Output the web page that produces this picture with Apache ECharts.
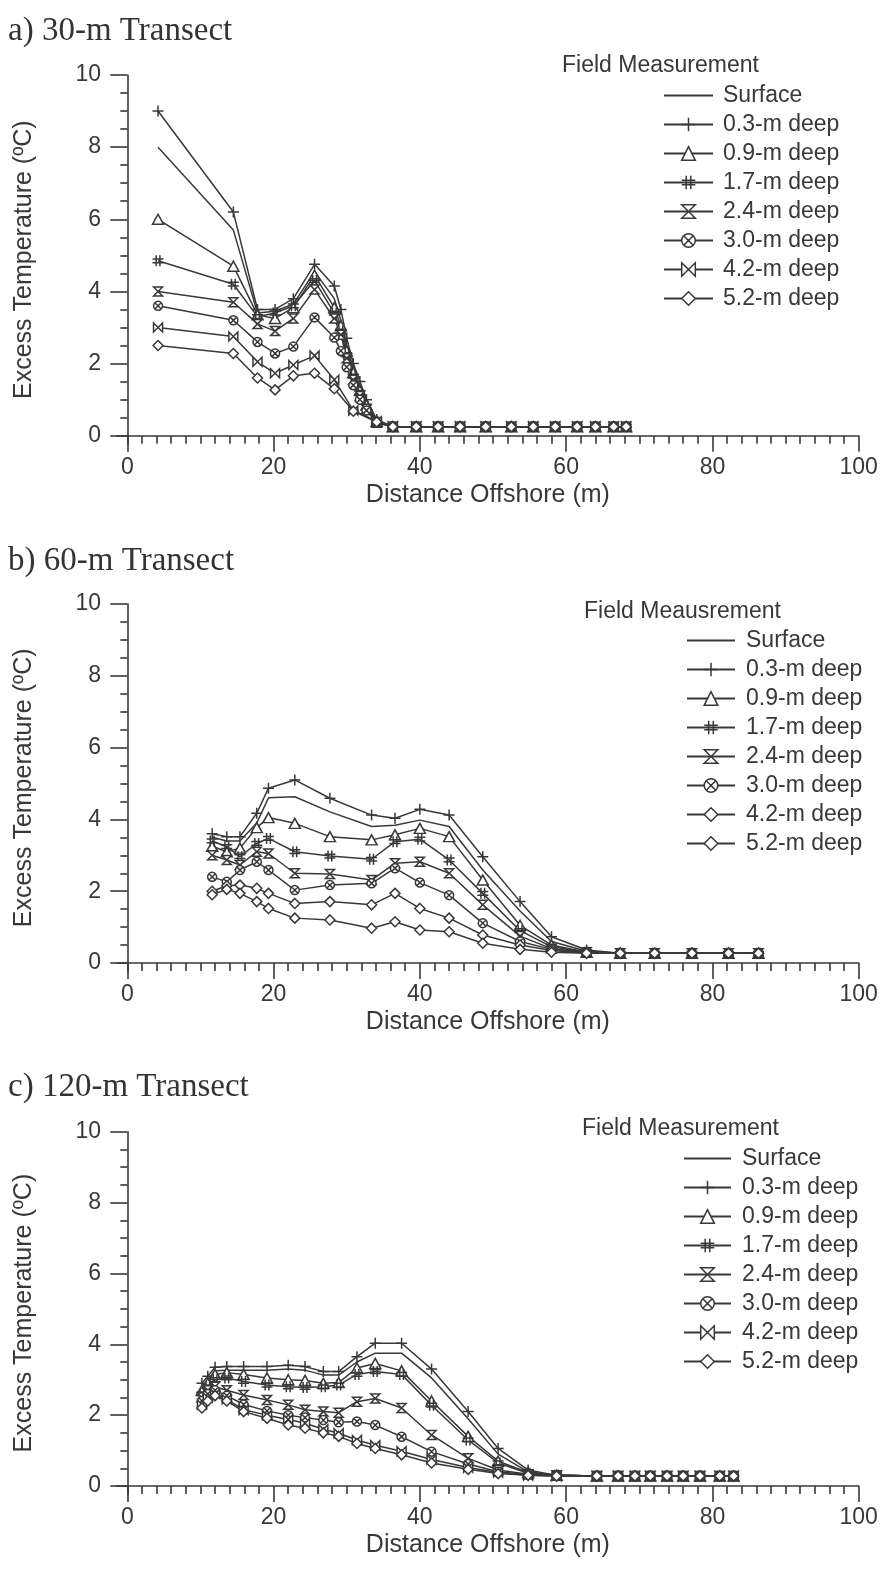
<!DOCTYPE html>
<html>
<head>
<meta charset="utf-8">
<script src="https://cdn.jsdelivr.net/npm/echarts@6/dist/echarts.min.js"></script>
<style>
  html, body { margin: 0; padding: 0; background: #fff; }
  #chart { width: 882px; height: 1584px; }
</style>
</head>
<body>
<div id="chart"></div>
<script>
// series names and tick labels
const depthNames = ['Surface', '0.3-m deep', '0.9-m deep', '1.7-m deep', '2.4-m deep', '3.0-m deep', '4.2-m deep', '5.2-m deep'];
const panelTitles = ['a) 30-m Transect', 'b) 60-m Transect', 'c) 120-m Transect'];
const legendHeads = ['Field Measurement', 'Field Meausrement', 'Field Measurement'];
const xTicks = [0, 20, 40, 60, 80, 100];
const yTicks = [0, 2, 4, 6, 8, 10];

// a) 30-m transect
const xA = [4.2, 14.5, 17.8, 20.2, 22.7, 25.6, 28.3, 29.2, 30.0, 30.9, 31.8, 32.7, 34.1,
  36.3, 39.5, 42.5, 45.5, 49.0, 52.5, 55.5, 58.5, 61.5, 64.0, 66.5, 68.2];
const aSurf = [8.0, 5.7, 3.4, 3.45, 3.65, 4.55, 3.8, 3.2, 2.5, 1.85, 1.35, 0.9, 0.4,
  0.25, 0.25, 0.25, 0.25, 0.25, 0.25, 0.25, 0.25, 0.25, 0.25, 0.25, 0.25];
const a03 = [9.0, 6.2, 3.5, 3.5, 3.8, 4.75, 4.15, 3.5, 2.7, 2.0, 1.5, 1.0, 0.45,
  0.25, 0.25, 0.25, 0.25, 0.25, 0.25, 0.25, 0.25, 0.25, 0.25, 0.25, 0.25];
const a09 = [6.0, 4.7, 3.35, 3.25, 3.55, 4.45, 3.55, 3.05, 2.35, 1.75, 1.25, 0.85, 0.4,
  0.25, 0.25, 0.25, 0.25, 0.25, 0.25, 0.25, 0.25, 0.25, 0.25, 0.25, 0.25];
const a17 = [4.85, 4.2, 3.3, 3.4, 3.6, 4.3, 3.4, 2.9, 2.25, 1.65, 1.2, 0.8, 0.38,
  0.25, 0.25, 0.25, 0.25, 0.25, 0.25, 0.25, 0.25, 0.25, 0.25, 0.25, 0.25];
const a24 = [4.0, 3.7, 3.1, 2.9, 3.25, 4.05, 3.25, 2.8, 2.15, 1.55, 1.1, 0.75, 0.36,
  0.25, 0.25, 0.25, 0.25, 0.25, 0.25, 0.25, 0.25, 0.25, 0.25, 0.25, 0.25];
const a30 = [3.6, 3.2, 2.6, 2.28, 2.47, 3.28, 2.72, 2.35, 1.9, 1.4, 1.0, 0.7, 0.36,
  0.25, 0.25, 0.25, 0.25, 0.25, 0.25, 0.25, 0.25, 0.25, 0.25, 0.25, 0.25];
const a42 = [3.0, 2.75, 2.05, 1.73, 1.96, 2.22, 1.55, null, null, 0.7, null, null, 0.4,
  0.25, 0.25, 0.25, 0.25, 0.25, 0.25, 0.25, 0.25, 0.25, 0.25, 0.25, 0.25];
const a52 = [2.5, 2.28, 1.6, 1.27, 1.66, 1.73, 1.3, null, null, 0.68, null, null, 0.38,
  0.25, 0.25, 0.25, 0.25, 0.25, 0.25, 0.25, 0.25, 0.25, 0.25, 0.25, 0.25];

// b) 60-m transect
const xB = [11.6, 13.6, 15.4, 17.7, 19.3, 22.9, 27.7, 33.4, 36.6, 40.0, 44.0, 48.6, 53.7, 58.0,
  62.8, 67.4, 72.1, 77.2, 82.2, 86.3];
const bSurf = [3.5, 3.4, 3.4, 3.9, 4.6, 4.63, 4.21, 3.8, 3.84, 3.98, 3.8, 2.59, 1.45, 0.6,
  0.33, 0.27, 0.27, 0.27, 0.27, 0.27];
const b03 = [3.6, 3.52, 3.52, 4.17, 4.87, 5.1, 4.59, 4.12, 4.03, 4.28, 4.12, 2.96, 1.71, 0.73,
  0.36, 0.27, 0.27, 0.27, 0.27, 0.27];
const b09 = [3.25, 3.1, 3.2, 3.77, 4.05, 3.89, 3.52, 3.43, 3.57, 3.75, 3.52, 2.31, 1.05, 0.5,
  0.3, 0.27, 0.27, 0.27, 0.27, 0.27];
const b17 = [3.4, 3.24, 2.96, 3.33, 3.47, 3.1, 2.98, 2.89, 3.38, 3.45, 2.87, 1.94, 0.9, 0.45,
  0.3, 0.27, 0.27, 0.27, 0.27, 0.27];
const b24 = [3.0, 2.87, 2.73, 3.1, 3.05, 2.5, 2.48, 2.31, 2.78, 2.82, 2.5, 1.62, 0.75, 0.4,
  0.3, 0.27, 0.27, 0.27, 0.27, 0.27];
const b30 = [2.4, 2.26, 2.59, 2.82, 2.59, 2.03, 2.17, 2.22, 2.64, 2.24, 1.89, 1.11, 0.6, 0.38,
  0.3, 0.27, 0.27, 0.27, 0.27, 0.27];
const b42 = [2.0, 2.15, 2.17, 2.08, 1.94, 1.66, 1.71, 1.62, 1.94, 1.52, 1.25, 0.78, 0.5, 0.35,
  0.28, 0.27, 0.27, 0.27, 0.27, 0.27];
const b52 = [1.9, 2.05, 1.94, 1.71, 1.52, 1.25, 1.2, 0.97, 1.15, 0.92, 0.87, 0.55, 0.38, 0.3,
  0.27, 0.27, 0.27, 0.27, 0.27, 0.27];

// c) 120-m transect
const xC = [10.2, 11.0, 12.0, 13.6, 15.9, 19.1, 22.0, 24.3, 26.8, 28.9, 31.4, 33.9, 37.5, 41.6,
  46.6, 50.7, 54.8, 58.7, 64.2, 67.1, 69.4, 71.5, 73.8, 76.0, 78.3, 81.0, 82.9];
const cSurf = [2.8, 3.0, 3.25, 3.27, 3.27, 3.27, 3.3, 3.27, 3.13, 3.13, 3.5, 3.75, 3.75, 3.05,
  1.9, 0.9, 0.4, 0.3, 0.28, 0.28, 0.28, 0.28, 0.28, 0.28, 0.28, 0.28, 0.28];
const c03 = [2.9, 3.1, 3.35, 3.37, 3.37, 3.37, 3.41, 3.37, 3.23, 3.23, 3.65, 4.03, 4.03, 3.3,
  2.1, 1.06, 0.45, 0.3, 0.28, 0.28, 0.28, 0.28, 0.28, 0.28, 0.28, 0.28, 0.28];
const c09 = [2.7, 2.9, 3.15, 3.2, 3.15, 3.05, 3.0, 2.98, 2.9, 2.92, 3.33, 3.46, 3.25, 2.4,
  1.4, 0.7, 0.38, 0.3, 0.28, 0.28, 0.28, 0.28, 0.28, 0.28, 0.28, 0.28, 0.28];
const c17 = [2.6, 2.8, 3.0, 3.05, 2.95, 2.85, 2.8, 2.78, 2.8, 2.85, 3.15, 3.23, 3.15, 2.28,
  1.3, 0.65, 0.36, 0.3, 0.28, 0.28, 0.28, 0.28, 0.28, 0.28, 0.28, 0.28, 0.28];
const c24 = [2.5, 2.7, 2.8, 2.7, 2.57, 2.43, 2.29, 2.15, 2.1, 2.07, 2.38, 2.47, 2.2, 1.44,
  0.78, 0.45, 0.33, 0.3, 0.28, 0.28, 0.28, 0.28, 0.28, 0.28, 0.28, 0.28, 0.28];
const c30 = [2.4, 2.6, 2.7, 2.55, 2.3, 2.12, 2.0, 1.93, 1.86, 1.8, 1.82, 1.72, 1.39, 0.97,
  0.62, 0.4, 0.32, 0.3, 0.28, 0.28, 0.28, 0.28, 0.28, 0.28, 0.28, 0.28, 0.28];
const c42 = [2.3, 2.5, 2.6, 2.45, 2.15, 2.0, 1.88, 1.77, 1.6, 1.49, 1.3, 1.15, 0.98, 0.75,
  0.52, 0.38, 0.3, 0.28, 0.28, 0.28, 0.28, 0.28, 0.28, 0.28, 0.28, 0.28, 0.28];
const c52 = [2.2, 2.4, 2.55, 2.4, 2.1, 1.91, 1.72, 1.63, 1.5, 1.4, 1.2, 1.06, 0.88, 0.65,
  0.47, 0.35, 0.3, 0.28, 0.28, 0.28, 0.28, 0.28, 0.28, 0.28, 0.28, 0.28, 0.28];

const INK = '#383838';
const FONT = 'Liberation Sans';

// marker shapes, drawn as outlines
const SYM = {
  plus: { s: 'path://M5 0L5 10M0 5L10 5', size: 11 },
  tri: { s: 'path://M5 0L10 9L0 9Z', size: [11, 10] },
  hash: { s: 'path://M3.3 0L3.3 10M6.7 0L6.7 10M0 3.3L10 3.3M0 6.7L10 6.7', size: 11 },
  hour: { s: 'path://M0 0L10 0L0 10L10 10Z', size: 9 },
  circX: { s: 'path://M0 5A5 5 0 1 1 10 5A5 5 0 1 1 0 5ZM1.5 1.5L8.5 8.5M8.5 1.5L1.5 8.5', size: 9 },
  bow: { s: 'path://M0 0L10 10L10 0L0 10Z', size: 9 },
  dia: { s: 'path://M5 0L10 5L5 10L0 5Z', size: 10 }
};

const panels = [
  { x: xA, ys: [aSurf, a03, a09, a17, a24, a30, a42, a52],
    syms: [null, 'plus', 'tri', 'hash', 'hour', 'circX', 'bow', 'dia'],
    top: 75, unit: 36.07, titleTop: 15, headLeft: 562, headTop: 54, legLeft: 663, legW: 49, legPad: 5, legTop: 84 },
  { x: xB, ys: [bSurf, b03, b09, b17, b24, b30, b42, b52],
    syms: [null, 'plus', 'tri', 'hash', 'hour', 'circX', 'dia', 'dia'],
    top: 604, unit: 35.9, titleTop: 545, headLeft: 584, headTop: 600, legLeft: 686, legW: 48, legPad: 6, legTop: 629 },
  { x: xC, ys: [cSurf, c03, c09, c17, c24, c30, c42, c52],
    syms: [null, 'plus', 'tri', 'hash', 'hour', 'circX', 'bow', 'dia'],
    top: 1131.7, unit: 35.43, titleTop: 1071, headLeft: 582, headTop: 1117, legLeft: 683, legW: 47, legPad: 6, legTop: 1147 }
];

const X_MIN = -1.41, Y_MIN = -0.24;
const xMinor = [], yMinor = [];
for (let v = 2; v < 100; v += 2) if (v % 20) xMinor.push(v);
for (let v = 0.5; v < 10; v += 0.5) if (v % 2) yMinor.push(v);

const grid = [], xAxis = [], yAxis = [], series = [], legend = [], title = [];
const tickFont = { fontFamily: FONT, fontSize: 23, color: INK };

panels.forEach((p, i) => {
  const tag = 'abc'[i] + '|';
  grid.push({ left: 117, width: 741.7, top: p.top, height: p.unit * (10 - Y_MIN) });

  xAxis.push({
    type: 'value', gridIndex: i, position: 'bottom', min: X_MIN, max: 100,
    name: 'Distance Offshore (m)', nameLocation: 'middle', nameGap: 38,
    nameTextStyle: { ...tickFont, fontSize: 25 },
    axisLine: { lineStyle: { color: INK, width: 1.6 } },
    axisTick: { customValues: xTicks, length: 16, lineStyle: { color: INK, width: 1.6 } },
    axisLabel: { customValues: xTicks, margin: 12, ...tickFont },
    splitLine: { show: false }
  });
  xAxis.push({
    type: 'value', gridIndex: i, position: 'bottom', min: X_MIN, max: 100,
    axisLine: { show: false },
    axisTick: { customValues: xMinor, length: 8, lineStyle: { color: INK, width: 1.6 } },
    axisLabel: { show: false }, splitLine: { show: false }
  });
  yAxis.push({
    type: 'value', gridIndex: i, position: 'left', min: Y_MIN, max: 10,
    name: 'Excess Temperature (ºC)', nameLocation: 'middle', nameGap: 80,
    nameTextStyle: { ...tickFont, fontSize: 25 },
    axisLine: { show: true, lineStyle: { color: INK, width: 1.6 } },
    axisTick: { show: true, customValues: yTicks, length: 17, lineStyle: { color: INK, width: 1.6 } },
    axisLabel: { customValues: yTicks, margin: 16, ...tickFont },
    splitLine: { show: false }
  });
  yAxis.push({
    type: 'value', gridIndex: i, position: 'left', min: Y_MIN, max: 10,
    axisLine: { show: false },
    axisTick: { show: true, customValues: yMinor, length: 7, lineStyle: { color: INK, width: 1.6 } },
    axisLabel: { show: false }, splitLine: { show: false }
  });

  const legData = [];
  depthNames.forEach((nm, k) => {
    const sym = p.syms[k] ? SYM[p.syms[k]] : null;
    series.push({
      name: tag + nm, type: 'line', xAxisIndex: i * 2, yAxisIndex: i * 2,
      data: p.x.map((x, j) => [x, p.ys[k][j]]),
      connectNulls: true,
      symbol: sym ? sym.s : 'none', symbolSize: sym ? sym.size : 0,
      showSymbol: !!sym,
      lineStyle: { color: INK, width: 1.5 },
      itemStyle: { color: '#fff', borderColor: INK, borderWidth: 1.5 },
      emphasis: { disabled: true }, animation: false
    });
    legData.push(sym ? { name: tag + nm } : { name: tag + nm, itemStyle: { opacity: 0 } });
  });

  legend.push({
    orient: 'vertical', left: p.legLeft, top: p.legTop, padding: 0,
    itemWidth: p.legW, itemHeight: 17, itemGap: 6, selectedMode: false,
    data: legData,
    formatter: n => n.split('|')[1],
    itemStyle: { borderWidth: 1.5 },
    textStyle: { fontFamily: FONT, fontSize: 23, color: INK, padding: [0, 0, 0, p.legPad] }
  });

  title.push({
    text: panelTitles[i], left: 8, top: p.titleTop, padding: 0,
    textStyle: { fontFamily: 'Liberation Serif', fontSize: 33, fontWeight: 'normal', color: '#333' }
  });
  title.push({
    text: legendHeads[i], left: p.headLeft, top: p.headTop, padding: 0,
    textStyle: { fontFamily: FONT, fontSize: 23, fontWeight: 'normal', color: INK }
  });
});

const chart = echarts.init(document.getElementById('chart'), null, { renderer: 'canvas' });
chart.setOption({
  backgroundColor: '#fff',
  animation: false,
  title, grid, xAxis, yAxis, legend, series
});
</script>
</body>
</html>
